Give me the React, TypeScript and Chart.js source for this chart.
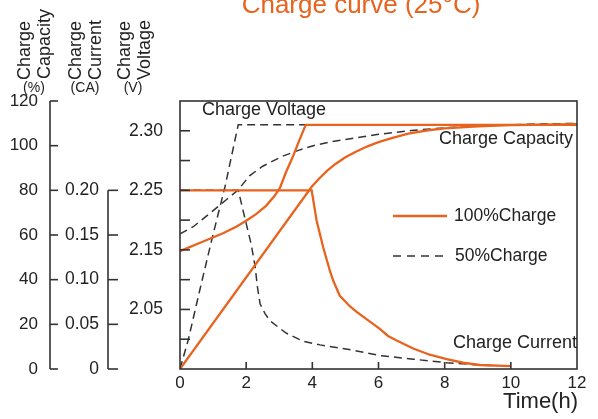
import React, { useEffect, useRef } from 'react';
import { Chart, registerables } from 'chart.js';

Chart.register(...registerables);

const ORANGE = '#E8631E';
const DARK = '#333333';
const TEXT = '#222222';
const FONT = '"Liberation Sans", Arial, sans-serif';

// ---- axes ----
const timeTicks = [0, 2, 4, 6, 8, 10, 12];
const capTicks = [0, 20, 40, 60, 80, 100, 120];
const curTicks = [0, 0.05, 0.1, 0.15, 0.2];
const curTickLabels = ['0', '0.05', '0.10', '0.15', '0.20'];
const voltMarks = [2.0, 2.05, 2.1, 2.15, 2.2, 2.25, 2.3, 2.35];
const voltLabelValues = [2.05, 2.15, 2.25, 2.35];
const voltTickLabels = ['2.05', '2.15', '2.25', '2.30'];

// ---- 100% charge (solid orange) ----
const volt100T = [0, 0.7, 1.3, 1.7, 2.0, 2.3, 2.6, 2.85, 3.02, 3.2, 3.4, 3.6, 3.8, 12];
const volt100 = [2.148, 2.164, 2.178, 2.189, 2.199, 2.21, 2.224, 2.24, 2.254, 2.28, 2.305, 2.333, 2.36, 2.36];

const cap100T = [0, 3.98, 4.2, 4.45, 4.7, 5.0, 5.3, 5.65, 6.0, 6.4, 6.9, 7.5, 8.0, 9.0, 10.0, 12.0];
const cap100 = [0, 81.6, 85.2, 88.8, 91.8, 94.8, 97.2, 99.6, 101.6, 103.4, 105.4, 106.9, 107.7, 108.7, 109.2, 109.6];

const cur100T = [0, 3.98, 4.13, 4.33, 4.53, 4.63, 4.83, 5.14, 5.34, 5.74, 6.04, 6.29, 6.55, 7.05, 7.55, 8.06, 8.56, 9.06, 10];
const cur100 = [0.2, 0.2, 0.166, 0.136, 0.11, 0.099, 0.082, 0.07, 0.064, 0.053, 0.045, 0.037, 0.032, 0.023, 0.016, 0.011, 0.007, 0.0045, 0.0033];

// ---- 50% charge (dashed black) ----
const volt50T = [0, 0.25, 0.6, 0.96, 1.36, 1.76, 3.81];
const volt50 = [1.95, 1.999, 2.083, 2.167, 2.256, 2.36, 2.36];

const cap50T = [0, 0.4, 1.0, 1.4, 1.76, 2.1, 2.5, 3.1, 3.6, 4.1, 4.6, 5.1, 6.0, 7.0, 8.0, 9.0, 10.5, 12];
const cap50 = [60.5, 63.7, 70.9, 75.8, 80.2, 86.5, 90.8, 95.3, 98.0, 100.3, 101.8, 103.0, 105.1, 106.8, 108.0, 108.8, 109.6, 110.0];

const cur50T = [0, 1.76, 2.0, 2.15, 2.27, 2.34, 2.42, 2.57, 2.72, 3.0, 3.22, 3.72, 4.23, 5.24, 6.04, 7.05, 8.06, 9.06, 9.4];
const cur50 = [0.2, 0.2, 0.163, 0.14, 0.115, 0.092, 0.073, 0.062, 0.054, 0.046, 0.04, 0.031, 0.027, 0.021, 0.015, 0.011, 0.007, 0.0045, 0.004];

const pts = (t: number[], v: number[]) => t.map((x, i) => ({ x, y: v[i] }));

const decor = {
  id: 'decor',
  afterDraw(chart: any) {
    const { ctx, chartArea: a, scales } = chart;
    const xs = scales.x, cap = scales.yCap, cur = scales.yCur, volt = scales.yVolt;
    const line = (x1: number, y1: number, x2: number, y2: number) => {
      ctx.beginPath();
      ctx.moveTo(x1, y1);
      ctx.lineTo(x2, y2);
      ctx.stroke();
    };
    ctx.save();
    ctx.strokeStyle = DARK;
    ctx.lineWidth = 1.6;
    ctx.setLineDash([]);
    // plot box (voltage axis = left edge)
    ctx.strokeRect(a.left, a.top, a.right - a.left, a.bottom - a.top);
    voltMarks.forEach((v) => {
      const y = volt.getPixelForValue(v);
      line(a.left, y, a.left + 10, y);
    });
    timeTicks.slice(1, -1).forEach((t) => {
      const px = xs.getPixelForValue(t);
      line(px, a.bottom, px, a.bottom - 7);
    });
    // capacity axis
    const cx = cap.right;
    line(cx, cap.getPixelForValue(0), cx, cap.getPixelForValue(120));
    capTicks.forEach((v) => {
      const y = cap.getPixelForValue(v);
      line(cx, y, cx + 8, y);
    });
    // current axis
    const ix = cur.right;
    line(ix, cur.getPixelForValue(0), ix, cur.getPixelForValue(0.2));
    curTicks.forEach((v) => {
      const y = cur.getPixelForValue(v);
      line(ix, y, ix + 10, y);
    });

    // axis titles (rotated)
    ctx.fillStyle = TEXT;
    const rot = (txt: string, x: number, y: number) => {
      ctx.save();
      ctx.translate(x, y);
      ctx.rotate(-Math.PI / 2);
      ctx.textAlign = 'left';
      ctx.textBaseline = 'alphabetic';
      ctx.fillText(txt, 0, 0);
      ctx.restore();
    };
    ctx.font = `18px ${FONT}`;
    rot('Charge', 30, 80);
    rot('Capacity', 50, 79);
    rot('Charge', 81, 80);
    rot('Current', 101, 80);
    rot('Charge', 130, 80);
    rot('Voltage', 150, 80);
    ctx.font = `14px ${FONT}`;
    ctx.textAlign = 'center';
    ctx.textBaseline = 'alphabetic';
    ctx.fillText('(%)', 34, 92);
    ctx.fillText('(CA)', 85, 92);
    ctx.fillText('(V)', 133, 92);

    // curve labels
    ctx.font = `18px ${FONT}`;
    ctx.textAlign = 'left';
    ctx.fillText('Charge Voltage', a.left + 22, a.top + 14);
    ctx.textAlign = 'right';
    ctx.fillText('Charge Capacity', a.right - 4, a.top + 43);
    ctx.fillText('Charge Current', a.right, a.bottom - 21);

    // legend
    ctx.font = `17.5px ${FONT}`;
    ctx.textAlign = 'left';
    ctx.fillText('100%Charge', 454, 221);
    ctx.fillText('50%Charge', 455, 261);
    ctx.strokeStyle = ORANGE;
    ctx.lineWidth = 2.4;
    line(393, 216, 447, 216);
    ctx.strokeStyle = DARK;
    ctx.lineWidth = 1.5;
    ctx.setLineDash([8, 6]);
    line(393, 256, 447, 256);
    ctx.setLineDash([]);

    // x title
    ctx.font = `22px ${FONT}`;
    ctx.textAlign = 'right';
    ctx.fillText('Time(h)', a.right + 1, 408);

    // chart title
    ctx.fillStyle = ORANGE;
    ctx.font = `26px ${FONT}`;
    ctx.textAlign = 'center';
    ctx.fillText('Charge curve (25\u00B0C)', 361, 13);
    ctx.restore();
  },
};

export default function App() {
  const ref = useRef<HTMLCanvasElement>(null);
  useEffect(() => {
    if (!ref.current) return;
    const solid = { borderColor: ORANGE, borderWidth: 2.3, pointRadius: 0, tension: 0, fill: false, order: 1 };
    const dashed = { borderColor: DARK, borderWidth: 1.5, borderDash: [8, 5], pointRadius: 0, tension: 0, fill: false, order: 2 };
    const noGrid = { display: false, drawTicks: false };
    const chart = new Chart(ref.current, {
      type: 'line',
      data: {
        datasets: [
          { label: '100% Voltage', data: pts(volt100T, volt100), yAxisID: 'yVolt', ...solid },
          { label: '100% Capacity', data: pts(cap100T, cap100), yAxisID: 'yCap', ...solid },
          { label: '100% Current', data: pts(cur100T, cur100), yAxisID: 'yCur', ...solid },
          { label: '50% Voltage', data: pts(volt50T, volt50), yAxisID: 'yVolt', ...dashed },
          { label: '50% Capacity', data: pts(cap50T, cap50), yAxisID: 'yCap', ...dashed },
          { label: '50% Current', data: pts(cur50T, cur50), yAxisID: 'yCur', ...dashed },
        ],
      },
      options: {
        responsive: false,
        animation: false,
        layout: { padding: { top: 101, right: 21, left: 0, bottom: 0 } },
        plugins: { legend: { display: false }, tooltip: { enabled: false }, title: { display: false } },
        scales: {
          x: {
            type: 'linear',
            position: 'bottom',
            min: 0,
            max: 12,
            afterBuildTicks: (s: any) => { s.ticks = timeTicks.map((v) => ({ value: v })); },
            ticks: { font: { size: 17, family: FONT }, color: TEXT, padding: 4, maxRotation: 0, autoSkip: false },
            grid: noGrid,
            border: { display: false },
            afterFit: (s: any) => { s.height = 50; },
          },
          yCap: {
            type: 'linear',
            position: 'left',
            weight: 3,
            min: 0,
            max: 120,
            afterBuildTicks: (s: any) => { s.ticks = capTicks.map((v) => ({ value: v })); },
            ticks: { font: { size: 17, family: FONT }, color: TEXT, padding: 12, callback: (v: any) => String(v) },
            grid: noGrid,
            border: { display: false },
            afterFit: (s: any) => { s.width = 50; },
          },
          yCur: {
            type: 'linear',
            position: 'left',
            weight: 2,
            min: 0,
            max: 0.3,
            afterBuildTicks: (s: any) => { s.ticks = curTicks.map((v) => ({ value: v })); },
            ticks: { font: { size: 17.5, family: FONT }, color: TEXT, padding: 9, callback: (_v: any, i: number) => curTickLabels[i] },
            grid: noGrid,
            border: { display: false },
            afterFit: (s: any) => { s.width = 58; },
          },
          yVolt: {
            type: 'linear',
            position: 'left',
            weight: 1,
            min: 1.95,
            max: 2.4,
            afterBuildTicks: (s: any) => { s.ticks = voltLabelValues.map((v) => ({ value: v })); },
            ticks: { font: { size: 17.5, family: FONT }, color: TEXT, padding: 17, callback: (_v: any, i: number) => voltTickLabels[i] },
            grid: noGrid,
            border: { display: false },
            afterFit: (s: any) => { s.width = 72; },
          },
        },
      },
      plugins: [decor],
    } as any);
    return () => chart.destroy();
  }, []);
  return (
    <div style={{ position: 'absolute', left: 0, top: 0, width: 598, height: 419, background: '#fff' }}>
      <canvas ref={ref} width={598} height={419} style={{ display: 'block' }} />
    </div>
  );
}
